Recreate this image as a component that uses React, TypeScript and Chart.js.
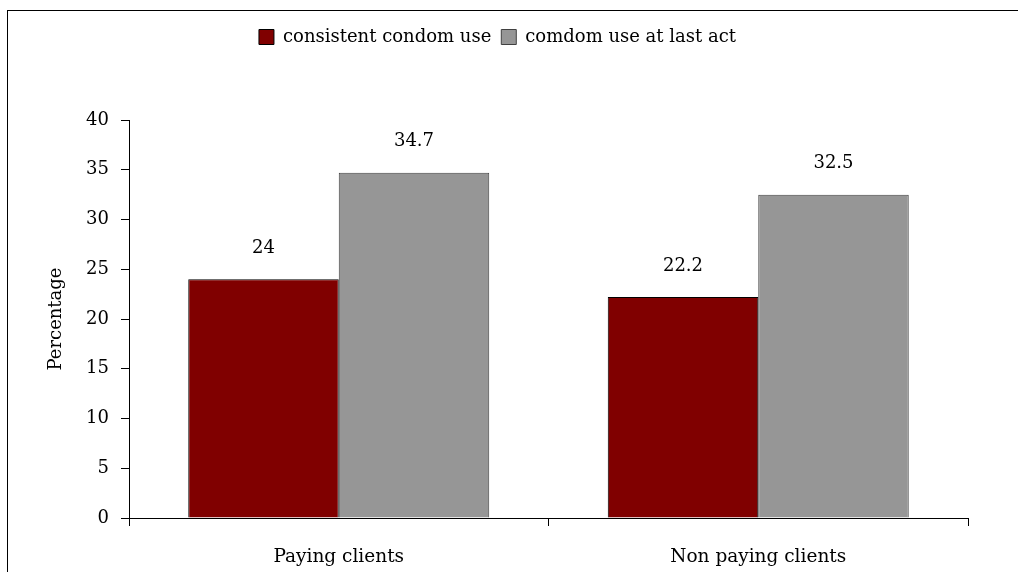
import React, { useEffect, useRef } from "react";
import { Chart, registerables } from "chart.js";

Chart.register(...registerables);

const categories = ["Paying clients", "Non paying clients"];
const seriesNames = ["consistent condom use", "comdom use at last act"];
const consistentUse = [24, 22.2];
const lastActUse = [34.7, 32.5];
const yTicks = [0, 5, 10, 15, 20, 25, 30, 35, 40];
const yTitle = "Percentage";

const FONT = "'DejaVu Serif', serif";

const valueLabels = {
  id: "valueLabels",
  afterDatasetsDraw(chart: any) {
    const ctx = chart.ctx;
    ctx.save();
    ctx.font = `18px ${FONT}`;
    ctx.fillStyle = "#000";
    ctx.textAlign = "center";
    ctx.textBaseline = "middle";
    chart.data.datasets.forEach((ds: any, i: number) => {
      const meta = chart.getDatasetMeta(i);
      meta.data.forEach((el: any, j: number) => {
        ctx.fillText(String(ds.data[j]), el.x, el.y - 31);
      });
    });
    ctx.restore();
  },
};

const legendHeight = {
  id: "legendHeight",
  afterInit(chart: any) {
    const lg = chart.legend;
    if (lg && !lg.__patched) {
      const orig = lg.fit;
      lg.fit = function () {
        orig.call(this);
        this.height = 102;
      };
      lg.__patched = true;
    }
  },
};

export default function App() {
  const ref = useRef<HTMLCanvasElement | null>(null);
  useEffect(() => {
    if (!ref.current) return;
    Chart.defaults.font.family = FONT;
    Chart.defaults.font.size = 18;
    Chart.defaults.color = "#000";
    const chart = new Chart(ref.current, {
      type: "bar",
      data: {
        labels: categories,
        datasets: [
          {
            label: seriesNames[0],
            data: consistentUse,
            backgroundColor: "#800000",
            borderColor: "#000000",
            borderWidth: 1,
            barPercentage: 1,
            categoryPercentage: 0.7175,
          },
          {
            label: seriesNames[1],
            data: lastActUse,
            backgroundColor: "#969696",
            borderColor: "#404040",
            borderWidth: 1,
            barPercentage: 1,
            categoryPercentage: 0.7175,
          },
        ],
      },
      options: {
        animation: false,
        responsive: false,
        layout: { padding: { left: 27, right: 50, top: 18, bottom: 0 } },
        plugins: {
          legend: {
            position: "top",
            align: "center",
            labels: {
              boxWidth: 15,
              boxHeight: 15,
              padding: 10,
              color: "#000",
              font: { family: FONT, size: 18 },
            },
          },
          tooltip: { enabled: false },
        },
        scales: {
          x: {
            offset: true,
            grid: {
              display: true,
              offset: true,
              drawOnChartArea: false,
              drawTicks: true,
              tickLength: 8,
              color: "#000",
            },
            border: { display: true, color: "#000", width: 1 },
            ticks: { padding: 20, color: "#000", font: { family: FONT, size: 18.5 } },
            afterFit(s: any) {
              s.height = 54;
            },
          },
          y: {
            min: 0,
            max: 40,
            afterBuildTicks(s: any) {
              s.ticks = yTicks.map((v) => ({ value: v }));
            },
            grid: {
              display: true,
              drawOnChartArea: false,
              drawTicks: true,
              tickLength: 8,
              color: "#000",
            },
            border: { display: true, color: "#000", width: 1 },
            ticks: { padding: 12, color: "#000", font: { family: FONT, size: 18 } },
            title: {
              display: true,
              text: yTitle,
              color: "#000",
              font: { family: FONT, size: 18 },
              padding: { top: 19, bottom: 0 },
            },
            afterFit(s: any) {
              s.width = 102;
            },
          },
        },
      },
      plugins: [valueLabels, legendHeight],
    } as any);
    return () => chart.destroy();
  }, []);

  return (
    <div
      style={{
        position: "fixed",
        left: 0,
        top: 0,
        width: 1018,
        height: 572,
        overflow: "hidden",
        background: "#fff",
      }}
    >
      <canvas ref={ref} width={1018} height={572} style={{ width: 1018, height: 572, display: "block" }} />
      <div
        style={{
          position: "absolute",
          left: 7,
          top: 10,
          width: 1200,
          height: 800,
          borderLeft: "1px solid #000",
          borderTop: "1px solid #000",
          pointerEvents: "none",
        }}
      />
    </div>
  );
}
